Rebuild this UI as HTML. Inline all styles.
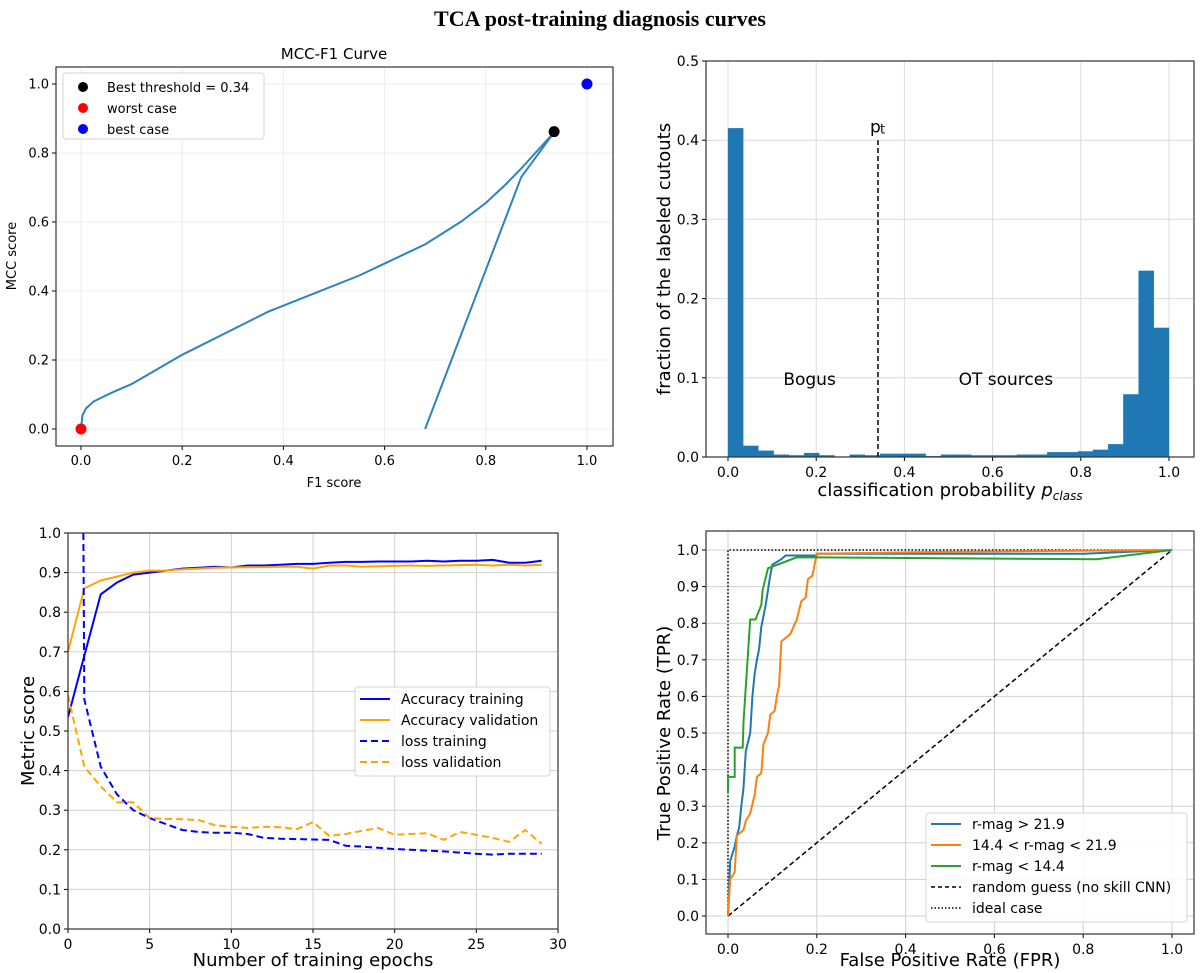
<!DOCTYPE html>
<html><head><meta charset="utf-8">
<style>
html,body{margin:0;padding:0;background:#fff;}
svg{display:block;font-family:"DejaVu Sans","Liberation Sans",sans-serif;}
</style></head>
<body>
<svg id="fig" width="1200" height="973" viewBox="0 0 1200 973" xmlns="http://www.w3.org/2000/svg">
<text x="600" y="26" text-anchor="middle" font-family="Liberation Serif, serif" font-weight="bold" font-size="22">TCA post-training diagnosis curves</text>
</svg>
<script>
// ---------- data: MCC-F1 ----------
const mccF1 = [0,0.003,0.01,0.025,0.06,0.1,0.2,0.37,0.55,0.68,0.75,0.8,0.84,0.87,0.935,0.87,0.68];
const mccVal = [0,0.04,0.06,0.08,0.105,0.13,0.215,0.34,0.445,0.535,0.6,0.655,0.71,0.755,0.86,0.73,0.0];
const mccBest = [0.935,0.862];
const mccTicks = [0,0.2,0.4,0.6,0.8,1.0];
// ---------- data: histogram ----------
const histVals = [0.415,0.014,0.008,0.003,0.002,0.005,0.002,0.0005,0.003,0.002,0.004,0.004,0.004,0.001,0.003,0.003,0.002,0.002,0.002,0.003,0.003,0.006,0.006,0.007,0.009,0.016,0.079,0.235,0.163];
const histYTicks = [0,0.1,0.2,0.3,0.4,0.5];
const histXTicks = [0,0.2,0.4,0.6,0.8,1.0];
const threshold = 0.34;
// ---------- data: training ----------
const epochs = [0,1,2,3,4,5,6,7,8,9,10,11,12,13,14,15,16,17,18,19,20,21,22,23,24,25,26,27,28,29];
const accTrain = [0.535,0.69,0.845,0.875,0.895,0.90,0.905,0.91,0.912,0.915,0.913,0.918,0.918,0.92,0.922,0.922,0.925,0.927,0.927,0.928,0.928,0.928,0.93,0.928,0.93,0.93,0.932,0.925,0.925,0.93];
const accVal = [0.70,0.86,0.88,0.89,0.90,0.905,0.905,0.908,0.91,0.912,0.913,0.914,0.914,0.915,0.915,0.91,0.918,0.918,0.915,0.916,0.917,0.918,0.917,0.918,0.919,0.92,0.918,0.92,0.918,0.92];
const lossTrain = [8.0,0.58,0.41,0.34,0.30,0.28,0.265,0.25,0.245,0.243,0.243,0.24,0.23,0.228,0.227,0.226,0.225,0.21,0.208,0.205,0.202,0.20,0.198,0.196,0.193,0.19,0.188,0.19,0.19,0.19];
const lossVal = [0.59,0.41,0.36,0.32,0.32,0.28,0.278,0.277,0.275,0.262,0.258,0.255,0.258,0.257,0.252,0.27,0.235,0.24,0.248,0.255,0.238,0.24,0.242,0.225,0.245,0.238,0.23,0.22,0.25,0.215];
const trainXTicks = [0,5,10,15,20,25,30];
const trainYTicks = [0,0.1,0.2,0.3,0.4,0.5,0.6,0.7,0.8,0.9,1.0];
// ---------- data: ROC ----------
const rocBlueX = [0,0.005,0.01,0.015,0.02,0.025,0.03,0.035,0.04,0.05,0.055,0.06,0.065,0.07,0.075,0.085,0.095,0.1,0.12,0.13,0.2,0.2,0.8,1];
const rocBlueY = [0,0.15,0.17,0.19,0.22,0.24,0.3,0.35,0.45,0.5,0.6,0.66,0.7,0.73,0.79,0.85,0.93,0.96,0.975,0.985,0.985,0.99,0.99,1];
const rocOrangeX = [0,0.005,0.015,0.02,0.035,0.04,0.05,0.06,0.065,0.075,0.08,0.09,0.095,0.105,0.11,0.115,0.12,0.13,0.14,0.155,0.165,0.175,0.18,0.19,0.2,0.5,1];
const rocOrangeY = [0,0.1,0.12,0.22,0.235,0.26,0.28,0.33,0.38,0.39,0.47,0.5,0.55,0.56,0.6,0.63,0.75,0.76,0.77,0.81,0.86,0.87,0.92,0.93,0.99,0.995,1];
const rocGreenX = [0,0,0.015,0.015,0.033,0.035,0.05,0.062,0.075,0.078,0.09,0.155,0.83,1];
const rocGreenY = [0.335,0.38,0.38,0.46,0.46,0.53,0.81,0.81,0.85,0.89,0.95,0.98,0.975,1];
const rocTicksX = [0,0.2,0.4,0.6,0.8,1.0];
const rocTicksY = [0,0.1,0.2,0.3,0.4,0.5,0.6,0.7,0.8,0.9,1.0];

const NS = "http://www.w3.org/2000/svg";
const svg = document.getElementById('fig');
function mk(tag, attrs, name, inter, parent){
  const el = document.createElementNS(NS, tag);
  for (const k in attrs) el.setAttribute(k, attrs[k]);
  
  
  (parent || svg).appendChild(el);
  return el;
}
function txt(x,y,s,size,name,extra){
  const a = Object.assign({x:x,y:y,'font-size':size,fill:'#000'}, extra||{});
  const t = mk('text', a, name, false);
  t.textContent = s;
  return t;
}
function scale(d0,d1,p0,p1){ return v => p0 + (v-d0)/(d1-d0)*(p1-p0); }
function poly(xs, ys, sx, sy){ return xs.map((x,i)=>sx(x).toFixed(1)+','+sy(ys[i]).toFixed(1)).join(' '); }

function axes(o){
  // o: box {l,r,t,b}, sx, sy, xt, yt, fmtx, fmty, grid color, fs, prefix
  const g = mk('g', {}, o.p+'-gridlines', false);
  o.xt.forEach(v=>{ const x=o.sx(v);
    const ln = mk('line',{x1:x,x2:x,y1:o.t,y2:o.b,stroke:o.gc,'stroke-width':1},o.p+'-x-gridline',false,g); });
  o.yt.forEach(v=>{ const y=o.sy(v);
    const ln = mk('line',{x1:o.l,x2:o.r,y1:y,y2:y,stroke:o.gc,'stroke-width':1},o.p+'-y-gridline',false,g); });
  o.xt.forEach(v=>{ const x=o.sx(v);
    mk('line',{x1:x,x2:x,y1:o.b,y2:o.b+4,stroke:'#000'},o.p+'-x-tick',false);
    txt(x,o.b+6+o.fs,o.fx(v),o.fs,o.p+'-x-tick-label',{'text-anchor':'middle'}); });
  o.yt.forEach(v=>{ const y=o.sy(v);
    mk('line',{x1:o.l-4,x2:o.l,y1:y,y2:y,stroke:'#000'},o.p+'-y-tick',false);
    txt(o.l-7,y+o.fs*0.36,o.fy(v),o.fs,o.p+'-y-tick-label',{'text-anchor':'end'}); });
}
function frame(o){ mk('rect',{x:o.l,y:o.t,width:o.r-o.l,height:o.b-o.t,fill:'none',stroke:'#333','stroke-width':1.2},o.p+'-frame',false); }
const f1 = v=>v.toFixed(1);

// ================= MCC-F1 =================
(function(){
  const o={p:'mcc',l:56,r:613,t:67,b:446,gc:'#ececec',fs:13,fx:f1,fy:f1,xt:mccTicks,yt:mccTicks};
  o.sx=scale(0,1,81,587); o.sy=scale(0,1,429,84);
  axes(o);
  mk('polyline',{points:poly(mccF1,mccVal,o.sx,o.sy),fill:'none',stroke:'#2b83c0','stroke-width':2},'mcc-f1-curve',false);
  mk('circle',{cx:o.sx(mccBest[0]),cy:o.sy(mccBest[1]),r:5.5,fill:'#000'},'best-threshold-point',true);
  mk('circle',{cx:o.sx(0),cy:o.sy(0),r:5.5,fill:'#f00'},'worst-case-point',true);
  mk('circle',{cx:o.sx(1),cy:o.sy(1),r:5.5,fill:'#00f'},'best-case-point',true);
  frame(o);
  txt(334,59,'MCC-F1 Curve',15,'mcc-chart-title',{'text-anchor':'middle'});
  txt(334,487,'F1 score',13,'mcc-x-axis-title',{'text-anchor':'middle'});
  txt(0,0,'MCC score',13,'mcc-y-axis-title',{'text-anchor':'middle',transform:'translate(16,256) rotate(-90)'});
  mk('rect',{x:63,y:73,width:201,height:66,rx:3,fill:'#fff','fill-opacity':0.85,stroke:'#d5d5d5'},'mcc-legend',false);
  const le=[['Best threshold = 0.34','#000'],['worst case','#f00'],['best case','#00f']];
  le.forEach((e,i)=>{ const y=87+i*21;
    mk('circle',{cx:83,cy:y,r:5,fill:e[1]},'mcc-legend-marker',false);
    txt(107,y+5,e[0],13,'mcc-legend-entry'); });
})();

// ================= Histogram =================
(function(){
  const o={p:'hist',l:706,r:1194,t:61,b:457,gc:'#dcdcdc',fs:14,fx:f1,fy:f1,xt:histXTicks,yt:histYTicks};
  o.sx=scale(0,1,728,1169); o.sy=scale(0,0.5,457,61);
  axes(o);
  const w=1/histVals.length;
  histVals.forEach((v,i)=>{
    const x0=o.sx(i*w), x1=o.sx((i+1)*w);
    mk('rect',{x:x0,y:o.sy(v),width:x1-x0,height:o.sy(0)-o.sy(v),fill:'#1f77b4',stroke:'#1f77b4','stroke-width':0.3},'hist-bar',false);
  });
  mk('line',{x1:o.sx(threshold),x2:o.sx(threshold),y1:o.sy(0),y2:o.sy(0.4),stroke:'#000','stroke-width':1.5,'stroke-dasharray':'5,3'},'threshold-line',false);
  txt(o.sx(threshold)-8,o.sy(0.41),'p',17,'threshold-label');
  txt(o.sx(threshold)+2,o.sy(0.41)+1,'t',13,'threshold-label-subscript');
  txt(o.sx(0.185),o.sy(0.1)+7,'Bogus',17,'bogus-label',{'text-anchor':'middle'});
  txt(o.sx(0.63),o.sy(0.1)+7,'OT sources',17,'ot-sources-label',{'text-anchor':'middle'});
  frame(o);
  const t=txt(950,496,'classification probability ',18,'hist-x-axis-title',{'text-anchor':'middle'});
  const ts=document.createElementNS(NS,'tspan'); ts.setAttribute('font-style','italic'); ts.textContent='p';
  t.appendChild(ts);
  const ts2=document.createElementNS(NS,'tspan'); ts2.setAttribute('font-style','italic'); ts2.setAttribute('font-size','12'); ts2.setAttribute('dy','4'); ts2.textContent='class';
  t.appendChild(ts2);
  txt(0,0,'fraction of the labeled cutouts',18,'hist-y-axis-title',{'text-anchor':'middle',transform:'translate(670,259) rotate(-90)'});
})();

// ================= Training curves =================
(function(){
  const o={p:'train',l:68,r:558,t:533,b:929,gc:'#d0d0d0',fs:14,fx:v=>String(v),fy:f1,xt:trainXTicks,yt:trainYTicks};
  o.sx=scale(0,30,68,558); o.sy=scale(0,1,929,533);
  axes(o);
  const cp=mk('clipPath',{id:'trainclip'},'train-clip',false);
  mk('rect',{x:o.l,y:o.t,width:o.r-o.l,height:o.b-o.t},'train-clip-rect',false,cp);
  const g=mk('g',{'clip-path':'url(#trainclip)'},'train-series',false);
  mk('polyline',{points:poly(epochs,accTrain,o.sx,o.sy),fill:'none',stroke:'#0000ff','stroke-width':2},'accuracy-training-line',false,g);
  mk('polyline',{points:poly(epochs,accVal,o.sx,o.sy),fill:'none',stroke:'#ffa500','stroke-width':2},'accuracy-validation-line',false,g);
  mk('polyline',{points:poly(epochs,lossTrain,o.sx,o.sy),fill:'none',stroke:'#0000ff','stroke-width':2,'stroke-dasharray':'7,4'},'loss-training-line',false,g);
  mk('polyline',{points:poly(epochs,lossVal,o.sx,o.sy),fill:'none',stroke:'#ffa500','stroke-width':2,'stroke-dasharray':'7,4'},'loss-validation-line',false,g);
  frame(o);
  txt(313,966,'Number of training epochs',18,'train-x-axis-title',{'text-anchor':'middle'});
  txt(0,0,'Metric score',18,'train-y-axis-title',{'text-anchor':'middle',transform:'translate(34,731) rotate(-90)'});
  mk('rect',{x:355,y:687,width:195,height:89,rx:3,fill:'#fff','fill-opacity':0.85,stroke:'#d5d5d5'},'train-legend',false);
  const le=[['Accuracy training','#0000ff',''],['Accuracy validation','#ffa500',''],['loss training','#0000ff','7,4'],['loss validation','#ffa500','7,4']];
  le.forEach((e,i)=>{ const y=699+i*21;
    mk('line',{x1:360,x2:390,y1:y,y2:y,stroke:e[1],'stroke-width':2,'stroke-dasharray':e[2]||'none'},'train-legend-swatch',false);
    txt(401,y+5,e[0],14,'train-legend-entry'); });
})();

// ================= ROC =================
(function(){
  const o={p:'roc',l:706,r:1194,t:531,b:934,gc:'#d0d0d0',fs:14,fx:f1,fy:f1,xt:rocTicksX,yt:rocTicksY};
  o.sx=scale(0,1,728,1172); o.sy=scale(0,1,916,550);
  axes(o);
  mk('line',{x1:o.sx(0),y1:o.sy(0),x2:o.sx(1),y2:o.sy(1),stroke:'#000','stroke-width':1.5,'stroke-dasharray':'5,3'},'random-guess-line',false);
  mk('polyline',{points:[o.sx(0)+','+o.sy(0),o.sx(0)+','+o.sy(1),o.sx(1)+','+o.sy(1)].join(' '),fill:'none',stroke:'#000','stroke-width':1.5,'stroke-dasharray':'1.5,2'},'ideal-case-line',false);
  mk('polyline',{points:poly(rocBlueX,rocBlueY,o.sx,o.sy),fill:'none',stroke:'#1f77b4','stroke-width':2},'roc-faint-line',false);
  mk('polyline',{points:poly(rocOrangeX,rocOrangeY,o.sx,o.sy),fill:'none',stroke:'#ff7f0e','stroke-width':2},'roc-mid-line',false);
  mk('polyline',{points:poly(rocGreenX,rocGreenY,o.sx,o.sy),fill:'none',stroke:'#2ca02c','stroke-width':2},'roc-bright-line',false);
  frame(o);
  txt(950,966,'False Positive Rate (FPR)',18,'roc-x-axis-title',{'text-anchor':'middle'});
  txt(0,0,'True Positive Rate (TPR)',18,'roc-y-axis-title',{'text-anchor':'middle',transform:'translate(670,733) rotate(-90)'});
  mk('rect',{x:926,y:813,width:261,height:109,rx:3,fill:'#fff','fill-opacity':0.85,stroke:'#d5d5d5'},'roc-legend',false);
  const le=[['r-mag > 21.9','#1f77b4',''],['14.4 < r-mag < 21.9','#ff7f0e',''],['r-mag < 14.4','#2ca02c',''],['random guess (no skill CNN)','#000','4,3'],['ideal case','#000','1.5,2']];
  le.forEach((e,i)=>{ const y=824+i*21;
    mk('line',{x1:931,x2:961,y1:y,y2:y,stroke:e[1],'stroke-width':e[2]?1.5:2,'stroke-dasharray':e[2]||'none'},'roc-legend-swatch',false);
    txt(972,y+5,e[0],14,'roc-legend-entry'); });
})();
</script>
</body></html>
